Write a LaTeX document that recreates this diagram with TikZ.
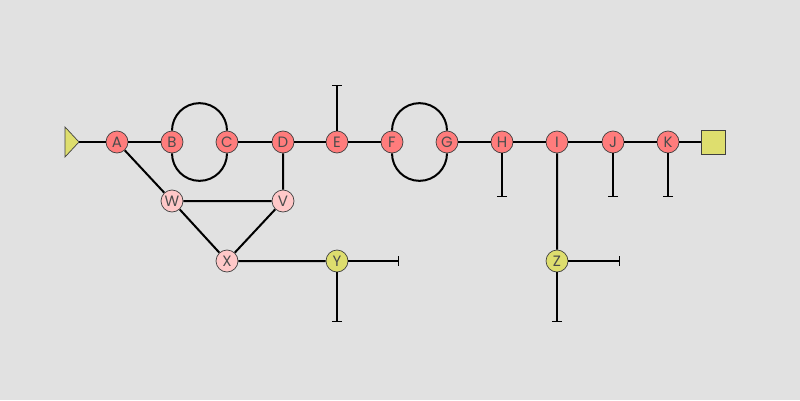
\documentclass[tikz,border=0pt]{standalone}
\usepackage{fontspec}
\setmainfont{Poppins}
\usepackage{tikz}
\usetikzlibrary{arrows.meta}
\definecolor{bgcol}{RGB}{225,225,225}
\definecolor{redcol}{RGB}{255,124,124}
\definecolor{pinkcol}{RGB}{255,200,200}
\definecolor{yellowcol}{RGB}{222,222,110}
\tikzset{base style/.style = {%
  draw = black!75,
  line width = 0.7pt,
  inner sep = 0pt,
  shape = circle,
  minimum size = 22pt,
  text = black!70,
  font = \fontsize{15}{15}\selectfont
 },
 red style/.style = {base style, fill = redcol},
 pink style/.style = {base style, fill = pinkcol},
 yellow style/.style = {base style, fill = yellowcol},
 wire/.style = {line width = 2pt},
 tee/.style = {wire, -{Bar[width=10pt,line width=1.4pt]}}
}

\begin{document}
\begin{tikzpicture}[x=1pt,y=1pt]
      \fill[bgcol] (0,0) rectangle (800,400);
      \useasboundingbox (0,0) rectangle (800,400);

      \node[red style] (A) at (117,258) {A};
      \node[red style] (B) at (172,258) {B};
      \node[red style] (C) at (227,258) {C};
      \node[red style] (D) at (283,258) {D};
      \node[red style] (E) at (337,258) {E};
      \node[red style] (F) at (392,258) {F};
      \node[red style] (G) at (447,258) {G};
      \node[red style] (H) at (502,258) {H};
      \node[red style] (I) at (557,258) {I};
      \node[red style] (J) at (613,258) {J};
      \node[red style] (K) at (668,258) {K};

      \node[pink style] (W) at (172,199) {W};
      \node[pink style] (V) at (283,199) {V};
      \node[pink style] (X) at (227,139) {X};
      \node[yellow style] (Y) at (337,139) {Y};
      \node[yellow style] (Z) at (557,139) {Z};

      \node[draw=black!75, line width=0.7pt, fill=yellowcol, minimum size=24pt, inner sep=0pt] (out) at (713,258) {};
      \filldraw[draw=black!75, line width=0.7pt, fill=yellowcol] (65,273) -- (79,258) -- (65,243) -- cycle;
      \coordinate (in) at (79,258);

      \coordinate (Eend) at (337,315);
      \coordinate (Hend) at (502,203);
      \coordinate (Jend) at (613,203);
      \coordinate (Kend) at (668,203);
      \coordinate (Zend) at (557,78);
      \coordinate (Zright) at (620,139);
      \coordinate (Yend) at (337,78);
      \coordinate (Yright) at (399,139);

      \draw[wire] (in) -- (A) (A) -- (B) (C) -- (D) (D) -- (E) (E) -- (F) (G) -- (H)
        (H) -- (I) (I) -- (J) (J) -- (K) (K) -- (out);
      \draw[wire] (A) -- (W) (W) -- (V) (D) -- (V) (W) -- (X) (V) -- (X) (X) -- (Y) (I) -- (Z);
      \draw[wire] (B.north) arc[start angle=180, delta angle=-180, radius=27.5pt];
      \draw[wire] (B.south) arc[start angle=180, delta angle=180, radius=27.5pt];
      \draw[wire] (F.north) arc[start angle=180, delta angle=-180, radius=27.5pt];
      \draw[wire] (F.south) arc[start angle=180, delta angle=180, radius=27.5pt];
      \draw[tee] (E) -- (Eend);
      \draw[tee] (H) -- (Hend);
      \draw[tee] (J) -- (Jend);
      \draw[tee] (K) -- (Kend);
      \draw[tee] (Z) -- (Zend);
      \draw[tee] (Z) -- (Zright);
      \draw[tee] (Y) -- (Yend);
      \draw[tee] (Y) -- (Yright);
     \end{tikzpicture}
\end{document}
